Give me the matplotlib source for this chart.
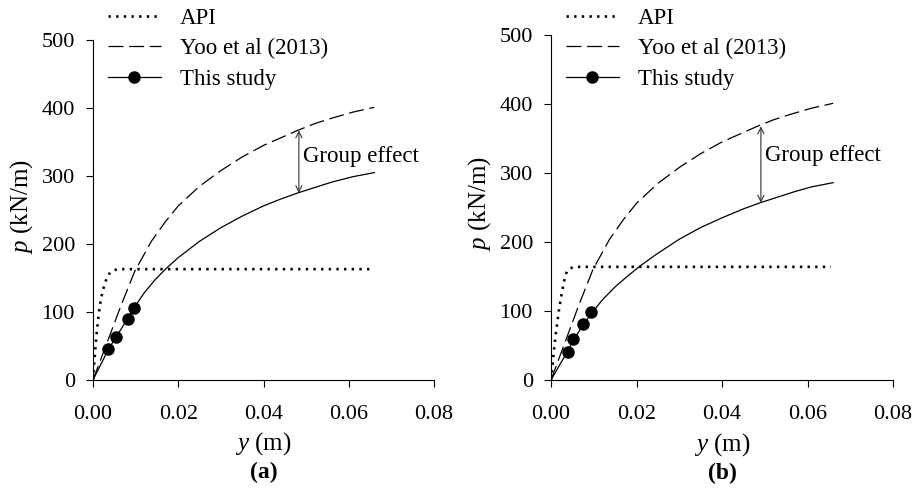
import matplotlib
matplotlib.use("Agg")
import matplotlib.pyplot as plt
from matplotlib.lines import Line2D
from matplotlib.ticker import FormatStrFormatter

plt.rcParams['font.family'] = ['Liberation Serif', 'DejaVu Serif']
plt.rcParams['mathtext.fontset'] = 'custom'
plt.rcParams['mathtext.rm'] = 'Liberation Serif'
plt.rcParams['mathtext.it'] = 'Liberation Serif:italic'

# --- data ---
# Yoo et al (2013), same in both panels
yoo_y = [0, 0.0027, 0.0066, 0.0098, 0.0137, 0.017, 0.02, 0.025, 0.03, 0.035,
         0.04, 0.044, 0.048, 0.052, 0.056, 0.061, 0.066]
yoo_p = [0, 45, 110, 160, 204, 233, 256, 285, 308, 328,
         345, 356, 367, 377, 385, 394, 401]

# panel (a)
api_a_y = [0, 0.0003, 0.0006, 0.0009, 0.0012, 0.0015, 0.0018, 0.0022, 0.0026,
           0.003, 0.0035, 0.004, 0.0048, 0.006, 0.0655]
api_a_p = [0, 26, 50, 71, 89, 104, 117, 129, 138, 146, 153, 158, 161.5, 163, 163]
study_a_y = [0, 0.0036, 0.0054, 0.0081, 0.0097, 0.012, 0.0145, 0.017, 0.02, 0.025,
             0.03, 0.035, 0.04, 0.044, 0.048, 0.052, 0.056, 0.061, 0.066]
study_a_p = [0, 45, 63, 90, 107, 128, 147, 163, 180, 204,
             224, 241, 256, 266, 275, 283, 291, 299, 305]
pts_a_y = [0.0036, 0.0054, 0.0081, 0.0097]
pts_a_p = [45, 63, 90, 106]
arrow_a = (0.0483, 367, 275)

# panel (b)
api_b_y = [0, 0.0003, 0.0006, 0.0009, 0.0012, 0.0015, 0.0019, 0.0023, 0.0026,
           0.0029, 0.0033, 0.0037, 0.0045, 0.0055, 0.0655]
api_b_p = [0, 18, 37, 55, 71, 85, 103, 118, 128, 138, 150, 157, 162, 164, 164]
study_b_y = [0, 0.0039, 0.0051, 0.0074, 0.0094, 0.012, 0.015, 0.018, 0.021, 0.0246,
             0.03, 0.035, 0.04, 0.045, 0.049, 0.053, 0.057, 0.061, 0.066]
study_b_p = [0, 42, 56, 79, 96, 116, 135, 151, 166, 182,
             204, 221, 235, 248, 257, 265, 273, 280, 286]
pts_b_y = [0.0039, 0.0051, 0.0074, 0.0094]
pts_b_p = [40, 59, 81, 98]
arrow_b = (0.0491, 367.5, 257)

W, H = 919, 496
fig = plt.figure(figsize=(W / 100, H / 100), dpi=100)

panels = [
    dict(rect=[93, 380, 341, 340], api=(api_a_y, api_a_p), study=(study_a_y, study_a_p),
         pts=(pts_a_y, pts_a_p), arrow=arrow_a, txt=(0.0493, 328), tag='(a)'),
    dict(rect=[551, 380, 342, 345], api=(api_b_y, api_b_p), study=(study_b_y, study_b_p),
         pts=(pts_b_y, pts_b_p), arrow=arrow_b, txt=(0.0500, 326), tag='(b)'),
]

for pn in panels:
    left, bottom, w, h = pn['rect']
    ax = fig.add_axes([left / W, (H - bottom) / H, w / W, h / H])

    ax.plot(*pn['api'], color='black', lw=1.9, linestyle=(0, (0.9, 2.0)))
    ax.plot(yoo_y, yoo_p, color='black', lw=0.9, dashes=(12, 4.5))
    ax.plot(*pn['study'], color='black', lw=0.9)
    ax.plot(*pn['pts'], 'o', color='black', ms=8)

    xa, ptop, pbot = pn['arrow']
    ax.annotate('', xy=(xa, ptop), xytext=(xa, pbot),
                arrowprops=dict(arrowstyle='<->', color='#333333', lw=0.8,
                                shrinkA=0, shrinkB=0, mutation_scale=11))
    ax.text(pn['txt'][0], pn['txt'][1], 'Group effect', fontsize=16.5,
            va='center', ha='left')

    ax.set_xlim(0, 0.08)
    ax.set_ylim(0, 500)
    ax.set_xticks([0, 0.02, 0.04, 0.06, 0.08])
    ax.set_yticks([0, 100, 200, 300, 400, 500])
    ax.xaxis.set_major_formatter(FormatStrFormatter('%.2f'))
    for s in ['top', 'right']:
        ax.spines[s].set_visible(False)
    for s in ['left', 'bottom']:
        ax.spines[s].set_linewidth(0.8)
    ax.tick_params(axis='x', direction='out', length=5, width=0.8, pad=13, labelsize=16)
    ax.tick_params(axis='y', direction='out', length=5, width=0.8, pad=8, labelsize=16)

    ax.set_ylabel('$p$ (kN/m)', fontsize=18)
    ax.yaxis.set_label_coords(-0.17, 0.51)
    ax.set_xlabel('$y$ (m)', fontsize=18)
    ax.xaxis.set_label_coords(0.5, -0.148)
    ax.text(0.5, -0.272, pn['tag'], transform=ax.transAxes, fontsize=17,
            fontweight='bold', ha='center', va='center')

    handles = [
        Line2D([], [], color='black', lw=1.9, linestyle=(0, (0.9, 2.0))),
        Line2D([], [], color='black', lw=0.9, dashes=(12, 4.5)),
        Line2D([], [], color='black', lw=0.9, marker='o', ms=8),
    ]
    ax.legend(handles, ['API', 'Yoo et al (2013)', 'This study'],
              loc='upper left', bbox_to_anchor=((left + 15) / W, (H - 8) / H),
              bbox_transform=fig.transFigure, frameon=False, fontsize=16.5,
              borderpad=0, borderaxespad=0, handlelength=2.3, handletextpad=0.85,
              labelspacing=0.4, numpoints=1)

fig.savefig('out.png', dpi=100)
